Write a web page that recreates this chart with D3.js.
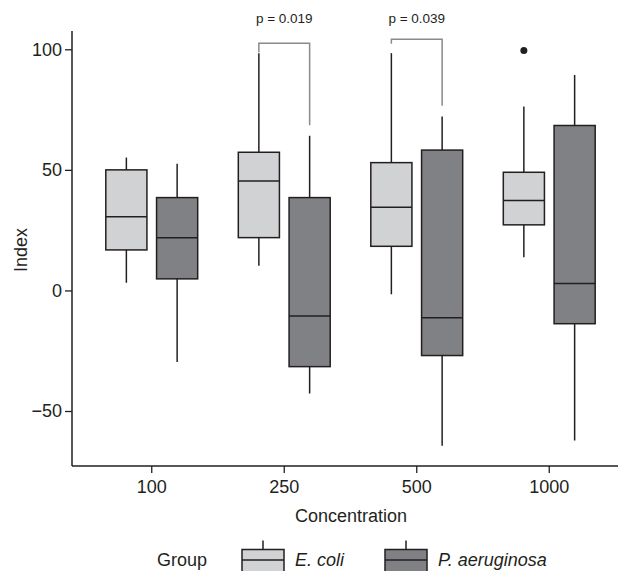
<!DOCTYPE html>
<html>
<head>
<meta charset="utf-8">
<script src="https://cdn.jsdelivr.net/npm/d3@7"></script>
<style>
  body { margin: 0; background: #fff; }
  svg { display: block; font-family: "Liberation Sans", Arial, sans-serif; }
</style>
</head>
<body>
<svg width="619" height="571"></svg>
<script>
// ---- data ----
var concentrations = ["100", "250", "500", "1000"];
var groups = ["E. coli", "P. aeruginosa"];
// [whiskerLow, q1, median, q3, whiskerHigh] per concentration
var ecoliStats = [
    [3.2, 16.8, 30.6, 50.0, 55.1],
    [10.2, 21.9, 45.4, 57.3, 98.4],
    [-1.6, 18.3, 34.5, 53.0, 98.4],
    [13.8, 27.2, 37.3, 49.0, 76.3]
];
var paeruStats = [
    [-29.7, 4.8, 21.9, 38.5, 52.5],
    [-42.7, -31.6, -10.6, 38.5, 64.1],
    [-64.4, -27.0, -11.3, 58.2, 72.1],
    [-62.2, -13.8, 2.9, 68.4, 89.3]
];
var outliers = [{conc: "1000", group: "E. coli", value: 99.5}];
var yTicks = [-50, 0, 50, 100];
var pLabels = [
    {conc: "250", text: "p = 0.019", top: 102.5, left: 98.8, right: 68.5},
    {conc: "500", text: "p = 0.039", top: 104.2, left: 102.3, right: 76.6}
];

var fills = {"E. coli": "#d1d2d4", "P. aeruginosa": "#808184"};
var ink = "#231f20";

var svg = d3.select("svg");

var x = d3.scaleBand().domain(concentrations).range([85.5, 615.5]);
var g = d3.scaleBand().domain(groups).range([0, x.bandwidth()]).paddingInner(0.19).paddingOuter(0.4);
var y = d3.scaleLinear().domain([-50, 100]).range([411, 49.3]);

var plotLeft = 72, plotBottom = 466, plotTop = 31;

// ---- axes ----
var yAxis = svg.append("g")
    .attr("transform", "translate(" + plotLeft + ",0)")
    .call(d3.axisLeft(y).tickValues(yTicks).tickSize(7).tickPadding(3).tickFormat(d => d < 0 ? "\u2212" + Math.abs(d) : d));
yAxis.select(".domain").remove();
yAxis.append("line").attr("x1", 0).attr("x2", 0).attr("y1", plotTop).attr("y2", plotBottom)
    .attr("stroke", ink).attr("stroke-width", 1.5);

var xAxis = svg.append("g")
    .attr("transform", "translate(0," + plotBottom + ")")
    .call(d3.axisBottom(x).tickSize(7).tickPadding(7));
xAxis.select(".domain").remove();
xAxis.append("line").attr("x1", plotLeft).attr("x2", 618).attr("y1", 0).attr("y2", 0)
    .attr("stroke", ink).attr("stroke-width", 1.5);

svg.selectAll(".tick line").attr("stroke", ink).attr("stroke-width", 1.3);
svg.selectAll(".tick text").attr("fill", ink).attr("font-size", 18);

svg.append("text")
    .attr("transform", "translate(27,250) rotate(-90)")
    .attr("text-anchor", "middle").attr("font-size", 18).attr("fill", ink)
    .text("Index");
svg.append("text")
    .attr("x", 351).attr("y", 522)
    .attr("text-anchor", "middle").attr("font-size", 18).attr("fill", ink)
    .text("Concentration");

// ---- boxes ----
var boxes = [];
concentrations.forEach(function(c, i) {
    boxes.push({conc: c, group: groups[0], s: ecoliStats[i]});
    boxes.push({conc: c, group: groups[1], s: paeruStats[i]});
});

var bw = g.bandwidth();
var box = svg.append("g").selectAll("g").data(boxes).join("g")
    .attr("transform", d => "translate(" + (x(d.conc) + g(d.group)) + ",0)");

box.append("line")
    .attr("x1", bw / 2).attr("x2", bw / 2)
    .attr("y1", d => y(d.s[0])).attr("y2", d => y(d.s[4]))
    .attr("stroke", ink).attr("stroke-width", 1.5);
box.append("rect")
    .attr("x", 0).attr("width", bw)
    .attr("y", d => y(d.s[3])).attr("height", d => y(d.s[1]) - y(d.s[3]))
    .attr("fill", d => fills[d.group]).attr("stroke", ink).attr("stroke-width", 1.5);
box.append("line")
    .attr("x1", 0).attr("x2", bw)
    .attr("y1", d => y(d.s[2])).attr("y2", d => y(d.s[2]))
    .attr("stroke", ink).attr("stroke-width", 1.5);

svg.append("g").selectAll("circle").data(outliers).join("circle")
    .attr("cx", d => x(d.conc) + g(d.group) + bw / 2)
    .attr("cy", d => y(d.value))
    .attr("r", 3.5).attr("fill", ink);

// ---- significance brackets ----
var br = svg.append("g").selectAll("g").data(pLabels).join("g");
br.append("path")
    .attr("d", function(d) {
        var x0 = x(d.conc) + g(groups[0]) + bw / 2,
            x1 = x(d.conc) + g(groups[1]) + bw / 2;
        return "M" + x0 + "," + y(d.left) + "V" + y(d.top) + "H" + x1 + "V" + y(d.right);
    })
    .attr("fill", "none").attr("stroke", "#8a8a8a").attr("stroke-width", 1.5);
br.append("text")
    .attr("x", d => x(d.conc) + x.bandwidth() / 2)
    .attr("y", 22.5)
    .attr("text-anchor", "middle").attr("font-size", 13.5).attr("fill", ink)
    .text(d => d.text);

// ---- legend ----
var legend = svg.append("g");
legend.append("text").attr("x", 157).attr("y", 566).attr("font-size", 18).attr("fill", ink).text("Group");
var items = legend.selectAll("g.item").data(groups).join("g")
    .attr("transform", (d, i) => "translate(" + [242, 385][i] + ",0)");
items.append("line").attr("x1", 21).attr("x2", 21).attr("y1", 540.5).attr("y2", 549.5)
    .attr("stroke", ink).attr("stroke-width", 1.5);
items.append("rect").attr("x", 0).attr("y", 549.5).attr("width", 42).attr("height", 30)
    .attr("fill", d => fills[d]).attr("stroke", ink).attr("stroke-width", 1.5);
items.append("line").attr("x1", 0).attr("x2", 42).attr("y1", 560).attr("y2", 560)
    .attr("stroke", ink).attr("stroke-width", 1.5);
items.append("text").attr("x", 53).attr("y", 566)
    .attr("font-size", 18).attr("font-style", "italic").attr("fill", ink)
    .text(d => d);
</script>
</body>
</html>
